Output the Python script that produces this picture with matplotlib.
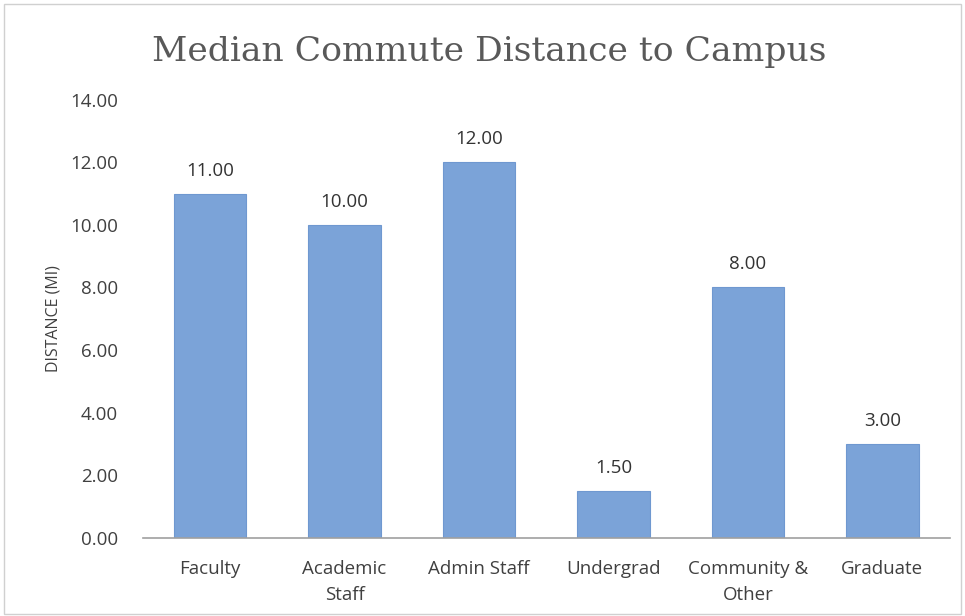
import matplotlib.pyplot as plt
from matplotlib.patches import Rectangle

categories = ["Faculty", "Academic\nStaff", "Admin Staff", "Undergrad", "Community &\nOther", "Graduate"]
distances = [11.0, 10.0, 12.0, 1.5, 8.0, 3.0]
y_ticks = [0, 2, 4, 6, 8, 10, 12, 14]

plt.rcParams['font.family'] = ['Open Sans', 'DejaVu Sans']

fig = plt.figure(figsize=(9.65, 6.16), dpi=100)
ax = fig.add_axes([0.148, 0.127, 0.836, 0.711])

x = range(len(categories))
bars = ax.bar(x, distances, width=0.54, color='#7ba3d8', edgecolor='#6f98d0', linewidth=0.8)

for b, v in zip(bars, distances):
    ax.text(b.get_x() + b.get_width() / 2, v + 0.45, f"{v:.2f}",
            ha='center', va='bottom', fontsize=13.5, color='#333333')

ax.set_xlim(-0.5, len(categories) - 0.5)
ax.set_ylim(0, 14)
ax.set_yticks(y_ticks)
ax.set_yticklabels([f"{t:.2f}" for t in y_ticks])
ax.set_xticks(list(x))
ax.set_xticklabels(categories, linespacing=1.6)
ax.tick_params(axis='both', length=0, labelsize=13.5, labelcolor='#404040')
ax.tick_params(axis='x', pad=16)
ax.tick_params(axis='y', pad=18)

for side in ['top', 'right', 'left']:
    ax.spines[side].set_visible(False)
ax.spines['bottom'].set_color('#a0a0a0')
ax.spines['bottom'].set_linewidth(1.2)

ax.set_ylabel("DISTANCE (MI)", fontsize=11.5, color='#404040', labelpad=6)

fig.text(0.507, 0.915, "Median Commute Distance to Campus", ha='center', va='center',
         fontsize=24.8, color='#595959', family='DejaVu Serif')

fig.patches.append(Rectangle((0.004, 0.004), 0.992, 0.99, transform=fig.transFigure,
                             fill=False, edgecolor='#d0d0d0', linewidth=1))

fig.savefig("out.png", dpi=100)
